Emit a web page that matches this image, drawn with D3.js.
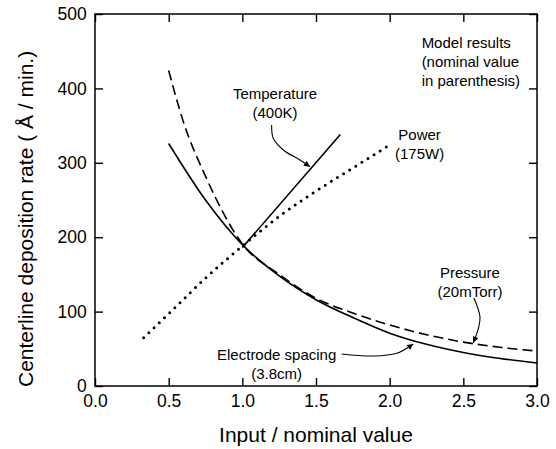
<!DOCTYPE html>
<html>
<head>
<meta charset="utf-8">
<script src="https://cdn.jsdelivr.net/npm/d3@7"></script>
<style>
  body { margin: 0; background: #fff; }
  svg { display: block; font-family: "Liberation Sans", Arial, Helvetica, sans-serif; }
</style>
</head>
<body>
<svg id="chart" width="556" height="449"></svg>
<script>
// ---- data ----
const xTicks = [0.0, 0.5, 1.0, 1.5, 2.0, 2.5, 3.0];
const yTicks = [0, 100, 200, 300, 400, 500];

const electrodeX = [0.5, 0.75, 1.0, 1.25, 1.5, 1.75, 2.0, 2.25, 2.5, 2.75, 3.0];
const electrodeY = [326, 250, 190, 148, 116, 92, 71, 56, 45, 37, 31];

const pressureX = [0.5, 0.6, 0.75, 1.0, 1.25, 1.5, 1.75, 2.0, 2.25, 2.5, 2.75, 3.0];
const pressureY = [424, 355, 282, 191, 150, 118, 98, 82, 69, 59, 52, 47];

const temperatureX = [1.0, 1.665];
const temperatureY = [186, 338];

const powerX = [0.33, 0.5, 0.75, 1.0, 1.25, 1.5, 1.75, 2.0];
const powerY = [65, 97, 145, 188, 228, 262, 293, 324];

// annotation leader curves (data units)
const tempArrowX = [1.199, 1.210, 1.278, 1.391, 1.459];
const tempArrowY = [350.8, 332.9, 317.2, 303.8, 294.8];
const pressArrowX = [2.572, 2.613, 2.603, 2.568];
const pressArrowY = [118.3, 93.1, 78, 58.2];
const elecArrowX = [1.674, 1.889, 2.048, 2.160];
const elecArrowY = [43, 40.3, 44, 56.5];

// ---- layout ----
const svg = d3.select("#chart");
const L = 95, R = 537, T = 14, B = 386;
const x = d3.scaleLinear().domain([0, 3]).range([L, R]);
const y = d3.scaleLinear().domain([0, 500]).range([B, T]);

const defs = svg.append("defs");
defs.append("marker")
  .attr("id", "arrow").attr("viewBox", "0 0 10 10")
  .attr("refX", 10).attr("refY", 5)
  .attr("markerWidth", 7).attr("markerHeight", 6)
  .attr("markerUnits", "userSpaceOnUse")
  .attr("orient", "auto")
  .append("path").attr("d", "M0,0 L10,5 L0,10 Z").attr("fill", "#000");

// axes
const tickFont = "17.5px";
const gx = svg.append("g").attr("transform", `translate(0,${B})`)
  .call(d3.axisBottom(x).tickValues(xTicks).tickFormat(d3.format(".1f"))
    .tickSizeInner(-8).tickSizeOuter(0).tickPadding(8.6));
const gy = svg.append("g").attr("transform", `translate(${L},0)`)
  .call(d3.axisLeft(y).tickValues(yTicks).tickFormat(d3.format("d"))
    .tickSizeInner(-8).tickSizeOuter(0).tickPadding(8.3));
const gt = svg.append("g").attr("transform", `translate(0,${T})`)
  .call(d3.axisTop(x).tickValues(xTicks).tickFormat("")
    .tickSizeInner(-8).tickSizeOuter(0));
const gr = svg.append("g").attr("transform", `translate(${R},0)`)
  .call(d3.axisRight(y).tickValues(yTicks).tickFormat("")
    .tickSizeInner(-8).tickSizeOuter(0));
[gx, gy, gt, gr].forEach(g => {
  g.selectAll(".domain").remove();
  g.selectAll(".tick line").attr("stroke", "#000").attr("stroke-width", 1.4);
  g.selectAll("text").attr("fill", "#000").style("font-size", tickFont)
    .style("font-family", '"Liberation Sans", Arial, Helvetica, sans-serif');
});
svg.append("rect").attr("x", L).attr("y", T).attr("width", R - L).attr("height", B - T)
  .attr("fill", "none").attr("stroke", "#000").attr("stroke-width", 1.5);

// axis titles
svg.append("text").attr("x", (L + R) / 2).attr("y", 442)
  .attr("text-anchor", "middle").style("font-size", "21px")
  .text("Input / nominal value");
svg.append("text")
  .attr("transform", `translate(33,387) rotate(-90)`)
  .attr("text-anchor", "start").style("font-size", "21px")
  .text("Centerline deposition rate ( Å / min.)");

// series
const zip = (xs, ys) => xs.map((v, i) => [v, ys[i]]);
const line = d3.line().x(d => x(d[0])).y(d => y(d[1])).curve(d3.curveMonotoneX);
const straight = d3.line().x(d => x(d[0])).y(d => y(d[1]));
const smooth = d3.line().x(d => x(d[0])).y(d => y(d[1])).curve(d3.curveCatmullRom.alpha(0.5));

svg.append("path").attr("d", line(zip(electrodeX, electrodeY)))
  .attr("fill", "none").attr("stroke", "#000").attr("stroke-width", 1.6);
svg.append("path").attr("d", line(zip(pressureX, pressureY)))
  .attr("fill", "none").attr("stroke", "#000").attr("stroke-width", 1.6)
  .attr("stroke-dasharray", "10,5");
svg.append("path").attr("d", straight(zip(temperatureX, temperatureY)))
  .attr("fill", "none").attr("stroke", "#000").attr("stroke-width", 1.6);
svg.append("path").attr("d", line(zip(powerX, powerY)))
  .attr("fill", "none").attr("stroke", "#000").attr("stroke-width", 3)
  .attr("stroke-linecap", "round").attr("stroke-dasharray", "0,7.2");

// leader arrows
[[tempArrowX, tempArrowY], [pressArrowX, pressArrowY], [elecArrowX, elecArrowY]].forEach(([xs, ys]) => {
  svg.append("path").attr("d", smooth(zip(xs, ys)))
    .attr("fill", "none").attr("stroke", "#000").attr("stroke-width", 1.1)
    .attr("marker-end", "url(#arrow)");
});

// annotation text
function label(lines, cx, cy, anchor) {
  const t = svg.append("text").attr("text-anchor", anchor).style("font-size", "15px");
  lines.forEach((s, i) => {
    t.append("tspan").attr("x", x(cx)).attr("y", y(cy) + i * 19).text(s);
  });
}
label(["Model results", "(nominal value", "in parenthesis)"], 2.217, 454.7, "start");
label(["Temperature", "(400K)"], 1.222, 385.3, "middle");
label(["Power", "(175W)"], 2.203, 330.6, "middle");
label(["Pressure", "(20mTorr)"], 2.545, 145.2, "middle");
label(["Electrode spacing", "(3.8cm)"], 1.233, 34.9, "middle");
</script>
</body>
</html>
